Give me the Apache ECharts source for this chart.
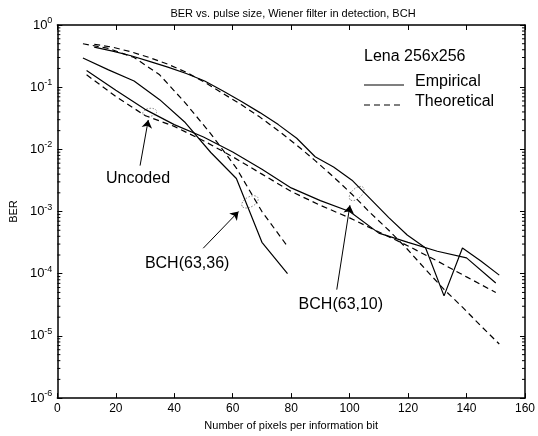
<!DOCTYPE html>
<html>
<head>
<meta charset="utf-8">
<script src="https://cdn.jsdelivr.net/npm/echarts@6/dist/echarts.min.js"></script>
<style>
  html, body { margin: 0; padding: 0; background: #fff; }
  #chart { width: 538px; height: 436px; }
</style>
</head>
<body>
<div id="chart"></div>
<script>
// x positions (pixels per information bit)
var xUncoded = [10, 20, 30, 40, 50, 60, 70, 80, 90, 100, 110, 120, 130, 140, 150]
var xBch36 = [8.75, 17.5, 26.25, 35, 43.75, 52.5, 61.25, 70, 78.75]
var xBch10 = [12.6, 18.9, 25.2, 31.5, 37.8, 44.1, 50.4, 56.7, 63, 69.3, 75.6, 81.9,
              88.2, 94.5, 100.8, 107.1, 113.4, 119.7, 126, 132.3, 138.6, 144.9, 151.2]

// BER values
var uncodedEmp = [0.186, 0.089, 0.044, 0.025, 0.0158, 0.0091, 0.0048, 0.0024, 0.0015, 0.001,
                  4.5e-4, 3.2e-4, 2.3e-4, 1.8e-4, 7.1e-5]
var uncodedTheo = [0.158, 0.071, 0.035, 0.0234, 0.0138, 0.0076, 0.004, 0.0021, 0.00126, 7.9e-4,
                   4.7e-4, 2.8e-4, 1.6e-4, 8.9e-5, 5.0e-5]
var bch36Emp = [0.295, 0.19, 0.126, 0.063, 0.027, 0.0089, 0.0034, 3.2e-4, 1.0e-4]
var bch36Theo = [0.50, 0.42, 0.30, 0.158, 0.056, 0.0178, 0.005, 0.001, 2.75e-4]
var bch10Emp = [0.44, 0.38, 0.32, 0.26, 0.21, 0.166, 0.126, 0.087, 0.059, 0.039, 0.025, 0.0151,
                0.0076, 0.0052, 0.0032, 0.0016, 8e-4, 4.2e-4, 2.6e-4, 4.4e-5, 2.6e-4, 1.6e-4, 9.5e-5]
var bch10Theo = [0.49, 0.44, 0.37, 0.30, 0.234, 0.174, 0.12, 0.079, 0.052, 0.033, 0.02, 0.0117,
                 0.0066, 0.0036, 0.0019, 9.5e-4, 5.0e-4, 2.5e-4, 1.17e-4, 5.6e-5, 2.9e-5, 1.45e-5, 7.4e-6]

var xTicks = [0, 20, 40, 60, 80, 100, 120, 140, 160]
var yExponents = [0, -1, -2, -3, -4, -5, -6]
var legendTitle = 'Lena 256x256'
var legendNames = ['Empirical', 'Theoretical']

// annotations: label, label position, arrow tail, arrow head, ellipse (data coords)
var notes = [
  { text: 'Uncoded',    at: [27.6, 0.0034],  tail: [28.3, 0.00548], head: [31.1, 0.0297],  ring: [31.6, 0.0394], rx: 7, ry: 4, rot: 0.15 },
  { text: 'BCH(63,36)', at: [44.4, 1.48e-4], tail: [49.9, 2.57e-4], head: [62.0, 0.001],   ring: [65.9, 0.00143], rx: 9, ry: 5, rot: 0.5 },
  { text: 'BCH(63,10)', at: [97.0, 3.2e-5],  tail: [95.6, 5.55e-5], head: [100.1, 0.00126], ring: [102.4, 0.00195], rx: 9, ry: 5, rot: 0.75 }
]

function zip(xs, ys) {
  return xs.map(function (x, i) { return [x, ys[i]] })
}

var font = 'Liberation Sans, Arial, Helvetica, sans-serif'
var dash = [6, 4]

function curve(name, xs, ys, dashed) {
  return {
    name: name,
    type: 'line',
    data: zip(xs, ys),
    symbol: 'none',
    color: '#000',
    lineStyle: { color: '#000', width: 1.2, type: dashed ? dash : 'solid' },
    animation: false
  }
}

var axisLine = { show: true, onZero: false, lineStyle: { color: '#000', width: 1.5 } }
var tick = { show: true, inside: true, length: 5, lineStyle: { color: '#000', width: 1 } }

var chart = echarts.init(document.getElementById('chart'))
chart.setOption({
  animation: false,
  textStyle: { fontFamily: font },
  title: {
    text: 'BER vs. pulse size, Wiener filter in detection, BCH',
    left: 288, top: 3, textAlign: 'center',
    textStyle: { fontSize: 11, fontWeight: 'normal', color: '#000', fontFamily: font }
  },
  grid: { left: 51, right: 11, top: 25, bottom: 35, containLabel: false },
  xAxis: [{
    type: 'value', min: 0, max: 160, interval: 20, position: 'bottom',
    axisLine: axisLine, axisTick: tick, splitLine: { show: false },
    axisLabel: { color: '#000', fontSize: 12, margin: 5, fontFamily: font,
      formatter: function (v) { return xTicks.indexOf(v) >= 0 ? String(v) : '' } },
    name: 'Number of pixels per information bit', nameLocation: 'middle', nameGap: 16,
    nameTextStyle: { fontSize: 11, color: '#000', fontFamily: font }
  }, {
    type: 'value', min: 0, max: 160, interval: 20, position: 'top',
    axisLine: axisLine, axisTick: tick, splitLine: { show: false }, axisLabel: { show: false }
  }],
  yAxis: [{
    type: 'log', logBase: 10, min: 1e-6, max: 1, splitNumber: 6, position: 'left',
    axisLine: axisLine, axisTick: tick, splitLine: { show: false },
    axisLabel: {
      margin: 5,
      formatter: function (v) {
        var e = Math.round(Math.log10(v))
        return yExponents.indexOf(e) >= 0 ? '{b|10}{s|' + e + '}' : ''
      },
      rich: {
        b: { fontSize: 13, color: '#000', fontFamily: font },
        s: { fontSize: 9, color: '#000', fontFamily: font, padding: [0, 0, 9, 0] }
      }
    },
    name: 'BER', nameLocation: 'middle', nameGap: 30,
    nameTextStyle: { fontSize: 11, color: '#000', fontFamily: font }
  }, {
    type: 'log', logBase: 10, min: 1e-6, max: 1, splitNumber: 6, position: 'right',
    axisLine: axisLine, axisTick: tick, splitLine: { show: false }, axisLabel: { show: false }
  }],
  series: [
    curve(legendNames[0], xBch10, bch10Emp, false),
    curve(legendNames[0], xBch36, bch36Emp, false),
    curve(legendNames[0], xUncoded, uncodedEmp, false),
    curve(legendNames[1], xBch10, bch10Theo, true),
    curve(legendNames[1], xBch36, bch36Theo, true),
    curve(legendNames[1], xUncoded, uncodedTheo, true),
    {
      type: 'lines', coordinateSystem: 'cartesian2d',
      symbol: ['none', 'arrow'], symbolSize: 8,
      lineStyle: { color: '#000', width: 1, opacity: 1 },
      data: notes.map(function (n) { return { coords: [n.tail, n.head] } }),
      animation: false, silent: true
    }
  ]
})

// second pass: pieces placed through the axes' own scales
var px = function (p) { return chart.convertToPixel({ xAxisIndex: 0, yAxisIndex: 0 }, p) }
var x0 = chart.convertToPixel({ xAxisIndex: 0 }, 0)
var x1 = chart.convertToPixel({ xAxisIndex: 0 }, 160)
var g = []

// legend block (drawn by hand so the keys are plain lines)
g.push({ type: 'text', x: 364, y: 57,
  style: { text: legendTitle, font: '16px ' + font, fill: '#000', textVerticalAlign: 'middle' } })
legendNames.forEach(function (name, i) {
  var ty = 82 + i * 20
  g.push({ type: 'line', shape: { x1: 364, y1: ty + 3, x2: 404, y2: ty + 3 },
    style: { stroke: '#000', lineWidth: 1.2, lineDash: i ? dash : null } })
  g.push({ type: 'text', x: 415, y: ty,
    style: { text: name, font: '16px ' + font, fill: '#000', textVerticalAlign: 'middle' } })
})

// log minor ticks on both sides
for (var d = -6; d < 0; d++) {
  for (var k = 2; k <= 9; k++) {
    var y = chart.convertToPixel({ yAxisIndex: 0 }, k * Math.pow(10, d))
    g.push({ type: 'line', shape: { x1: x0, y1: y, x2: x0 + 3, y2: y }, style: { stroke: '#000', lineWidth: 1 } })
    g.push({ type: 'line', shape: { x1: x1 - 3, y1: y, x2: x1, y2: y }, style: { stroke: '#000', lineWidth: 1 } })
  }
}

notes.forEach(function (n) {
  var c = px(n.ring)
  g.push({ type: 'ellipse', x: c[0], y: c[1], rotation: n.rot,
    shape: { cx: 0, cy: 0, rx: n.rx, ry: n.ry },
    style: { fill: 'none', stroke: '#777', lineWidth: 0.8, lineDash: [1.5, 1.5] } })
  var t = px(n.at)
  g.push({ type: 'text', x: t[0], y: t[1],
    style: { text: n.text, font: '16px ' + font, fill: '#000', textAlign: 'center', textVerticalAlign: 'middle' } })
})

chart.setOption({ graphic: g })
</script>
</body>
</html>
